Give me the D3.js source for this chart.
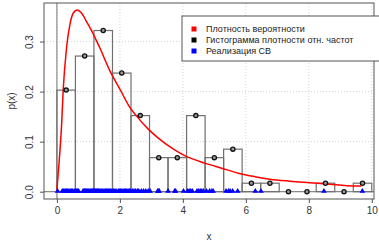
<!DOCTYPE html>
<html>
<head>
<meta charset="utf-8">
<script src="https://cdn.jsdelivr.net/npm/d3@7"></script>
<style>
  body { margin: 0; background: #fff; }
  text { font-family: "Liberation Sans", Arial, sans-serif; }
</style>
</head>
<body>
<div id="chart"></div>
<script>
// histogram bins (edges) and relative-frequency density per bin
const binEdges = [0, 0.588, 1.176, 1.765, 2.353, 2.941, 3.529, 4.118, 4.706, 5.294, 5.882, 6.471, 7.059, 7.647, 8.235, 8.824, 9.412, 10.0];
const densities = [0.203, 0.271, 0.322, 0.237, 0.152, 0.068, 0.068, 0.152, 0.068, 0.085, 0.017, 0.017, 0, 0, 0.017, 0, 0.017];

// theoretical density curve
const curveX = [0, 0.075, 0.15, 0.2, 0.31, 0.41, 0.52, 0.645, 0.78, 0.94, 1.10, 1.365, 1.68, 2.0, 2.32, 2.48, 2.9, 3.22, 3.75, 4.06, 4.7, 5.23, 5.76, 6.29, 6.76, 7.4, 8.03, 8.67, 9.2, 9.67];
const curveY = [0.005, 0.063, 0.135, 0.203, 0.29, 0.333, 0.357, 0.363, 0.357, 0.34, 0.322, 0.287, 0.242, 0.205, 0.168, 0.155, 0.125, 0.107, 0.083, 0.072, 0.057, 0.047, 0.037, 0.030, 0.025, 0.021, 0.018, 0.015, 0.012, 0.0114];

// sample values (realisation), drawn as triangles on y = 0
const sample = [
  0.02, 0.17, 0.2, 0.23, 0.27, 0.3, 0.34, 0.38, 0.42, 0.46, 0.5, 0.55,
  0.6, 0.63, 0.66, 0.69, 0.83, 0.86, 0.88, 0.9, 0.93, 0.96, 0.99, 1.02, 1.06, 1.1, 1.13, 1.16,
  1.18, 1.2, 1.22, 1.25, 1.28, 1.3, 1.33, 1.36, 1.4, 1.43, 1.46, 1.5, 1.54, 1.57, 1.6, 1.64, 1.68, 1.71, 1.75,
  1.8, 1.84, 1.88, 1.95, 1.98, 2.02, 2.06, 2.1, 2.14, 2.18, 2.22, 2.26, 2.3, 2.34,
  2.4, 2.45, 2.5, 2.56, 2.6, 2.68, 2.75, 2.82, 2.9,
  2.96, 3.2, 3.22, 3.25,
  3.53, 3.74, 3.77, 4.02,
  4.15, 4.2, 4.25, 4.3, 4.45, 4.5, 4.55, 4.6, 4.65,
  4.75, 4.85, 4.92, 4.96,
  5.37, 5.45, 5.5, 5.58, 5.74,
  6.3, 6.48, 8.48, 9.7
];

const xTicks = [0, 2, 4, 6, 8, 10];
const yTicks = [0, 0.1, 0.2, 0.3];
const legendLabels = ["Плотность вероятности", "Гистограмма плотности отн. частот", "Реализация СВ"];
const legendColors = ["#ff0000", "#000000", "#0000ff"];

const W = 379, H = 243;
const plot = { left: 44, right: 374, top: 3, bottom: 199 };

const svg = d3.select("#chart").append("svg")
    .attr("width", W)
    .attr("height", H);

const x = d3.scaleLinear().domain([-0.41, 10.07]).range([plot.left, plot.right]);
const y = d3.scaleLinear().domain([-0.0146, 0.377]).range([plot.bottom, plot.top]);

// grid
svg.append("g").selectAll("line")
    .data(xTicks)
    .join("line")
    .attr("x1", d => x(d)).attr("x2", d => x(d))
    .attr("y1", plot.top).attr("y2", plot.bottom)
    .attr("stroke", "#d3d3d3").attr("stroke-dasharray", "1,2");
svg.append("g").selectAll("line")
    .data(yTicks)
    .join("line")
    .attr("x1", plot.left).attr("x2", plot.right)
    .attr("y1", d => y(d)).attr("y2", d => y(d))
    .attr("stroke", "#d3d3d3").attr("stroke-dasharray", "1,2");

// reference lines x = 0, y = 0
svg.append("line")
    .attr("x1", x(0)).attr("x2", x(0))
    .attr("y1", plot.top).attr("y2", plot.bottom)
    .attr("stroke", "#8a8a8a").attr("stroke-width", 1.2);
svg.append("line")
    .attr("x1", plot.left).attr("x2", plot.right)
    .attr("y1", y(0)).attr("y2", y(0))
    .attr("stroke", "#8a8a8a").attr("stroke-width", 1.2);

// histogram
const bins = densities.map((d, i) => ({ x0: binEdges[i], x1: binEdges[i + 1], p: d }));
svg.append("g").selectAll("rect")
    .data(bins.filter(b => b.p > 0))
    .join("rect")
    .attr("x", d => x(d.x0))
    .attr("y", d => y(d.p))
    .attr("width", d => x(d.x1) - x(d.x0))
    .attr("height", d => y(0) - y(d.p))
    .attr("fill", "none")
    .attr("stroke", "#707070")
    .attr("stroke-width", 1.2);

// density curve
const line = d3.line()
    .x((d, i) => x(curveX[i]))
    .y(d => y(d))
    .curve(d3.curveMonotoneX);
svg.append("path")
    .datum(curveY)
    .attr("d", line)
    .attr("fill", "none")
    .attr("stroke", "#ff0000")
    .attr("stroke-width", 1.5);

// histogram midpoints
svg.append("g").selectAll("circle")
    .data(bins)
    .join("circle")
    .attr("cx", d => x((d.x0 + d.x1) / 2))
    .attr("cy", d => y(d.p))
    .attr("r", 2.1)
    .attr("fill", "#999")
    .attr("stroke", "#111")
    .attr("stroke-width", 1.3);

// sample triangles
const tri = d3.symbol().type(d3.symbolTriangle).size(14);
svg.append("g").selectAll("path")
    .data(sample)
    .join("path")
    .attr("d", tri)
    .attr("transform", d => `translate(${x(d)},${y(0) - 0.5})`)
    .attr("fill", "#0000ff");

// box
svg.append("rect")
    .attr("x", plot.left).attr("y", plot.top)
    .attr("width", plot.right - plot.left).attr("height", plot.bottom - plot.top)
    .attr("fill", "none").attr("stroke", "#555");

// axes
const xAxis = svg.append("g")
    .attr("transform", `translate(0,${plot.bottom})`)
    .call(d3.axisBottom(x).tickValues(xTicks).tickSize(4).tickPadding(4).tickFormat(d3.format("d")));
xAxis.select(".domain").remove();
xAxis.selectAll("line").attr("stroke", "#555");
xAxis.selectAll("text").attr("font-size", 10).attr("fill", "#333")
    .style("font-family", "Liberation Sans, Arial, sans-serif");

const yAxis = svg.append("g")
    .attr("transform", `translate(${plot.left},0)`)
    .call(d3.axisLeft(y).tickValues(yTicks).tickSize(4).tickFormat(d3.format(".1f")));
yAxis.select(".domain").remove();
yAxis.selectAll("line").attr("stroke", "#555");
yAxis.selectAll("text")
    .attr("x", 0).attr("dy", null)
    .attr("transform", "translate(-15,0) rotate(-90)")
    .attr("text-anchor", "middle")
    .attr("dominant-baseline", "central")
    .attr("font-size", 10).attr("fill", "#333")
    .style("font-family", "Liberation Sans, Arial, sans-serif");

svg.append("text")
    .attr("x", (plot.left + plot.right) / 2)
    .attr("y", 240)
    .attr("text-anchor", "middle")
    .attr("font-size", 10).attr("fill", "#333")
    .text("x");
svg.append("text")
    .attr("transform", `translate(11,${(plot.top + plot.bottom) / 2}) rotate(-90)`)
    .attr("text-anchor", "middle")
    .attr("dominant-baseline", "central")
    .attr("font-size", 10).attr("fill", "#333")
    .text("p(x)");

// legend
const legend = svg.append("g");
legend.append("rect")
    .attr("x", 182).attr("y", 16)
    .attr("width", 215).attr("height", 45)
    .attr("fill", "#fff").attr("stroke", "#555");
const rows = legend.selectAll("g.row")
    .data(legendLabels)
    .join("g")
    .attr("class", "row")
    .attr("transform", (d, i) => `translate(0,${29 + i * 11})`);
rows.append("rect")
    .attr("x", 191.5).attr("y", -2.5)
    .attr("width", 5).attr("height", 5)
    .attr("fill", (d, i) => legendColors[i]);
rows.append("text")
    .attr("x", 206)
    .attr("dominant-baseline", "central")
    .attr("font-size", 9).attr("fill", "#222")
    .text(d => d);
</script>
</body>
</html>
